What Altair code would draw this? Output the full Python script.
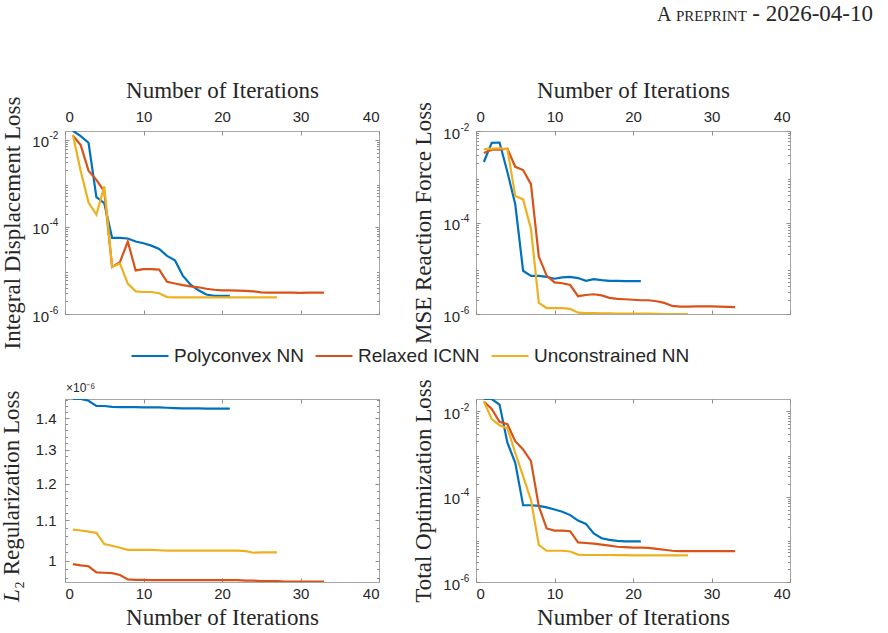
import altair as alt
import pandas as pd

MODELS = ["Polyconvex NN", "Relaxed ICNN", "Unconstrained NN"]
MODEL_COLORS = ["#0072BD", "#D95319", "#EDB120"]
X_TICKS = [0, 10, 20, 30, 40]

# Integral displacement loss per iteration
disp_poly = [1.6e-2, 1.2e-2, 8.5e-3, 4.8e-4, 3.5e-4, 5.6e-5, 5.6e-5, 5.4e-5, 4.6e-5, 4.2e-5,
             3.7e-5, 3.1e-5, 2.15e-5, 1.7e-5, 7.6e-6, 4.7e-6, 3.5e-6, 2.8e-6, 2.6e-6, 2.6e-6,
             2.6e-6]
disp_relaxed = [1.25e-2, 7.5e-3, 1.95e-3, 1.2e-3, 6.5e-4, 1.2e-5, 1.55e-5, 4.6e-5, 1.0e-5, 1.07e-5,
                1.07e-5, 1.04e-5, 5.5e-6, 5.0e-6, 4.6e-6, 4.3e-6, 4.1e-6, 3.8e-6, 3.6e-6, 3.5e-6,
                3.5e-6, 3.45e-6, 3.4e-6, 3.3e-6, 3.15e-6, 3.1e-6, 3.1e-6, 3.1e-6, 3.1e-6, 3.05e-6,
                3.1e-6, 3.1e-6, 3.1e-6]
disp_uncon = [1.3e-2, 1.9e-3, 3.6e-4, 1.9e-4, 8.5e-4, 1.2e-5, 1.45e-5, 5.0e-6, 3.3e-6, 3.2e-6,
              3.2e-6, 3.0e-6, 2.45e-6, 2.4e-6, 2.4e-6, 2.4e-6, 2.4e-6, 2.4e-6, 2.4e-6, 2.4e-6,
              2.4e-6, 2.4e-6, 2.4e-6, 2.4e-6, 2.4e-6, 2.4e-6, 2.4e-6]

# MSE reaction force loss per iteration
force_poly = [2.1e-3, 5.5e-3, 5.6e-3, 1.27e-3, 2.5e-4, 8.8e-6, 6.8e-6, 6.8e-6, 6.5e-6, 5.9e-6,
              6.3e-6, 6.5e-6, 6.1e-6, 5.3e-6, 5.8e-6, 5.5e-6, 5.3e-6, 5.3e-6, 5.25e-6, 5.25e-6,
              5.25e-6]
force_relaxed = [3.3e-3, 3.9e-3, 3.9e-3, 4.1e-3, 1.65e-3, 1.4e-3, 6.9e-4, 1.8e-5, 6.9e-6, 4.9e-6,
                 4.7e-6, 4.3e-6, 2.45e-6, 2.6e-6, 2.7e-6, 2.55e-6, 2.25e-6, 2.15e-6, 2.1e-6, 2.05e-6,
                 2.0e-6, 2.0e-6, 1.9e-6, 1.75e-6, 1.5e-6, 1.45e-6, 1.45e-6, 1.47e-6, 1.47e-6, 1.47e-6,
                 1.45e-6, 1.43e-6, 1.42e-6]
force_uncon = [4.0e-3, 4.1e-3, 4.2e-3, 4.0e-3, 3.8e-4, 3.2e-4, 7.3e-5, 1.75e-6, 1.35e-6, 1.35e-6,
               1.35e-6, 1.29e-6, 1.07e-6, 1.05e-6, 1.04e-6, 1.03e-6, 1.03e-6, 1.02e-6, 1.02e-6, 1.02e-6,
               1.02e-6, 1.02e-6, 1.01e-6, 1.0e-6, 1.0e-6, 0.99e-6, 0.99e-6]

# L2 regularization loss, in units of 1e-6
reg_poly = [1.465, 1.465, 1.459, 1.441, 1.441, 1.438, 1.437, 1.437, 1.437, 1.436,
            1.436, 1.436, 1.435, 1.434, 1.433, 1.433, 1.433, 1.432, 1.432, 1.432,
            1.432]
reg_relaxed = [0.992, 0.989, 0.987, 0.973, 0.972, 0.971, 0.967, 0.957, 0.956, 0.956,
               0.955, 0.955, 0.955, 0.955, 0.955, 0.955, 0.955, 0.955, 0.955, 0.955,
               0.955, 0.955, 0.954, 0.954, 0.953, 0.953, 0.953, 0.952, 0.952, 0.952,
               0.952, 0.952, 0.952]
reg_uncon = [1.076, 1.074, 1.071, 1.068, 1.040, 1.036, 1.031, 1.026, 1.026, 1.026,
             1.026, 1.025, 1.024, 1.024, 1.024, 1.024, 1.024, 1.024, 1.024, 1.024,
             1.024, 1.024, 1.023, 1.019, 1.020, 1.020, 1.020]

# Total optimization loss per iteration
total_poly = [1.95e-2, 1.95e-2, 1.44e-2, 1.84e-3, 6.2e-4, 6.3e-5, 6.3e-5, 6.1e-5, 5.6e-5, 5.0e-5,
              4.45e-5, 3.7e-5, 2.75e-5, 2.3e-5, 1.38e-5, 1.06e-5, 9.7e-6, 9.2e-6, 9.0e-6, 9.0e-6,
              9.0e-6]
total_relaxed = [1.7e-2, 1.14e-2, 5.7e-3, 5.0e-3, 2.0e-3, 1.28e-3, 6.8e-4, 6.0e-5, 1.8e-5, 1.6e-5,
                 1.6e-5, 1.55e-5, 8.5e-6, 8.2e-6, 7.9e-6, 7.5e-6, 7.1e-6, 6.7e-6, 6.6e-6, 6.4e-6,
                 6.4e-6, 6.3e-6, 6.0e-6, 5.7e-6, 5.4e-6, 5.3e-6, 5.3e-6, 5.3e-6, 5.3e-6, 5.3e-6,
                 5.3e-6, 5.3e-6, 5.3e-6]
total_uncon = [1.72e-2, 6.6e-3, 4.7e-3, 4.0e-3, 1.07e-3, 3.0e-4, 8.4e-5, 7.4e-6, 5.4e-6, 5.4e-6,
               5.4e-6, 5.2e-6, 4.4e-6, 4.3e-6, 4.3e-6, 4.3e-6, 4.3e-6, 4.25e-6, 4.25e-6, 4.2e-6,
               4.2e-6, 4.2e-6, 4.2e-6, 4.2e-6, 4.2e-6, 4.2e-6, 4.2e-6]

W, H = 314, 183
TICK_GRAY = "#8c8c8c"
TXT = "#262626"
SANS = "Liberation Sans"
SERIF = "Liberation Serif"

LOG_MAJOR = [1e-6, 1e-4, 1e-2]
LOG_MINOR = [k * 10.0 ** e for e in range(-7, 0) for k in range(2, 10)]
# mantissa and exponent of the decade labels are drawn as two label rows
LOG_BASE_EXPR = "'10'"
LOG_EXP_EXPR = "datum.value > 0.001 ? '-2' : datum.value > 0.00001 ? '-4' : '-6'"
REG_MAJOR = [1.0, 1.1, 1.2, 1.3, 1.4]
REG_MINOR = [round(0.96 + 0.02 * i, 2) for i in range(26)]
REG_EXPR = "datum.value < 1.05 ? '1' : format(datum.value, '.1f')"

LEGEND = alt.Legend(
    orient="none", direction="horizontal", columns=3, legendX=65, legendY=205,
    title=None, symbolType="stroke", symbolSize=1369, symbolStrokeWidth=2.2,
    labelFont=SANS, labelFontSize=19, labelColor=TXT, labelOffset=4,
    columnPadding=7, padding=0,
)


def long_table(poly, relaxed, uncon):
    rows = []
    for name, vals in zip(MODELS, (poly, relaxed, uncon)):
        for i, v in enumerate(vals, start=1):
            rows.append({"iteration": i, "loss": v, "model": name})
    return pd.DataFrame(rows)


def tick_axis(orient, values, size):
    # ticks only, pulled inside the frame
    return alt.Axis(orient=orient, values=values, labels=False, domain=False, grid=False,
                    ticks=True, tickSize=size, offset=-size, tickColor=TICK_GRAY,
                    tickWidth=1, title=None)


def panel(df, y_domain, y_major, y_minor, log_labels, y_title, x_side, extras=()):
    xs = alt.Scale(domain=[0, 40], nice=False, zero=False)
    ys = alt.Scale(type="log", domain=y_domain, nice=False)
    far = "bottom" if x_side == "top" else "top"
    minor = [v for v in y_minor if y_domain[0] <= v <= y_domain[1] and v not in y_major]

    x_axis = alt.Axis(
        orient=x_side, values=X_TICKS, ticks=False, tickSize=0, domain=False, grid=False,
        labelFont=SANS, labelFontSize=15, labelColor=TXT,
        labelPadding=7 if x_side == "top" else 4,
        title="Number of Iterations", titleFont=SERIF, titleFontSize=23,
        titleFontWeight="normal", titleColor=TXT, titleX=W / 2,
        titleY=-34 if x_side == "top" else 42, titleAlign="center",
        titleBaseline="alphabetic", titleAngle=0,
    )
    y_kw = dict(
        orient="left", values=y_major, ticks=False, tickSize=0,
        domain=False, grid=False, labelFont=SANS, labelFontSize=15, labelColor=TXT,
    )
    if log_labels:
        y_kw.update(labelExpr=LOG_BASE_EXPR, labelPadding=16.5, labelOffset=2)
    else:
        y_kw.update(labelExpr=REG_EXPR, labelPadding=9)
    if y_title:
        y_kw.update(title=y_title, titleFont=SERIF, titleFontSize=23, titleFontWeight="normal",
                    titleColor=TXT, titleX=-46, titleY=H / 2, titleAngle=270,
                    titleAlign="center", titleBaseline="alphabetic")
    else:
        y_kw.update(title=None)
    y_axis = alt.Axis(**y_kw)

    base = alt.Chart(df)
    lines = base.mark_line(strokeWidth=2.2, clip=True).encode(
        x=alt.X("iteration:Q", scale=xs, axis=x_axis),
        y=alt.Y("loss:Q", scale=ys, axis=y_axis),
        color=alt.Color("model:N", scale=alt.Scale(domain=MODELS, range=MODEL_COLORS),
                        legend=LEGEND),
    )

    def ghost(xa, ya):
        return base.mark_point(opacity=0).encode(
            x=alt.X("iteration:Q", scale=xs, axis=xa),
            y=alt.Y("loss:Q", scale=ys, axis=ya),
        )

    layers = [
        lines,
        ghost(tick_axis(x_side, X_TICKS, 4), tick_axis("left", y_major, 4)),
        ghost(tick_axis(far, X_TICKS, 4), tick_axis("right", y_major, 4)),
        ghost(None, tick_axis("left", minor, 2.5)),
        ghost(None, tick_axis("right", minor, 2.5)),
    ]
    if log_labels:
        exp_axis = alt.Axis(
            orient="left", values=y_major, labelExpr=LOG_EXP_EXPR, ticks=False, tickSize=0,
            domain=False, grid=False, labelFont=SANS, labelFontSize=10, labelColor=TXT,
            labelAlign="left", labelPadding=16, labelOffset=-4, title=None,
        )
        layers.append(ghost(None, exp_axis))
    layers.extend(extras)
    return (alt.layer(*layers)
            .resolve_axis(x="independent", y="independent")
            .properties(width=W, height=H))


def label(text, x, y, font, size, align="left", angle=0, style="normal"):
    return alt.Chart(pd.DataFrame({"t": [text]})).mark_text(
        font=font, fontSize=size, align=align, baseline="alphabetic", angle=angle,
        fontStyle=style, color=TXT,
    ).encode(text="t:N", x=alt.value(x), y=alt.value(y))


header = [
    label("A", 181, -110, SERIF, 20),
    label("PREPRINT", 200, -110, SERIF, 15),
    label("- 2026-04-10", 397, -110, SERIF, 23, align="right"),
]
reg_marks = [
    label("×10⁻⁶", 1, -7, SANS, 12),
    label("L", -46, 203, SERIF, 23, angle=270, style="italic"),
    label("₂ Regularization Loss", -46, 190, SERIF, 23, angle=270),
]

tl = panel(long_table(disp_poly, disp_relaxed, disp_uncon), [1e-6, 0.0158],
           LOG_MAJOR, LOG_MINOR, True, "Integral Displacement Loss", "top")
tr = panel(long_table(force_poly, force_relaxed, force_uncon), [1e-6, 1e-2],
           LOG_MAJOR, LOG_MINOR, True, "MSE Reaction Force Loss", "top", header)
bl = panel(long_table(reg_poly, reg_relaxed, reg_uncon), [0.951, 1.465],
           REG_MAJOR, REG_MINOR, False, None, "bottom", reg_marks)
br = panel(long_table(total_poly, total_relaxed, total_uncon), [1e-6, 0.0195],
           LOG_MAJOR, LOG_MINOR, True, "Total Optimization Loss", "bottom")

chart = (
    alt.concat(tl, tr, bl, br, columns=2, spacing={"row": 85, "column": 97}, bounds="flush")
    .resolve_scale(x="independent", y="independent", color="shared")
    .resolve_axis(x="independent", y="independent")
    .properties(padding={"left": 0, "top": 2, "right": 5, "bottom": 5}, background="white")
    .configure_view(stroke="#a6a6a6", strokeWidth=1)
)

chart.save("out.html", embed_options={"renderer": "svg", "actions": False})
